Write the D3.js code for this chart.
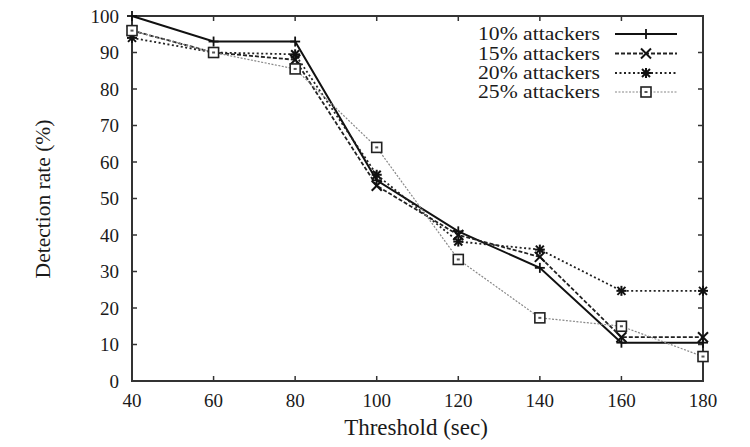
<!DOCTYPE html>
<html><head><meta charset="utf-8">
<script src="https://cdn.jsdelivr.net/npm/d3@7"></script>
<style>body{margin:0;background:#fff}svg{display:block}text{font-family:'Liberation Serif','DejaVu Serif',serif}</style>
</head><body><svg id="c" width="750" height="447"></svg>
<script>
const thresholds = [40, 60, 80, 100, 120, 140, 160, 180];
const seriesNames = ["10% attackers", "15% attackers", "20% attackers", "25% attackers"];
const s10 = [100, 93, 93, 55, 41, 31, 10.5, 10.5];
const s15 = [96, 90, 88, 53.5, 40, 34, 12, 12];
const s20 = [94, 90, 89.5, 56.5, 38.2, 36, 24.7, 24.7];
const s25 = [96, 90, 85.5, 64, 33.3, 17.3, 15, 6.7];
const yTicks = [0, 10, 20, 30, 40, 50, 60, 70, 80, 90, 100];
const xTicks = [40, 60, 80, 100, 120, 140, 160, 180];

const svg = d3.select("#c");
const L = 132, R = 703, T = 16, B = 381;
const x = d3.scaleLinear().domain([40, 180]).range([L, R]);
const y = d3.scaleLinear().domain([0, 100]).range([B, T]);
const axisColor = "#333";
const textColor = "#1a1a1a";

const g = svg.append("g");
const tl = 5;
yTicks.forEach(v => {
  g.append("line").attr("x1", L).attr("x2", L + tl).attr("y1", y(v)).attr("y2", y(v)).attr("stroke", axisColor).attr("stroke-width", 1.5);
  g.append("line").attr("x1", R).attr("x2", R - tl).attr("y1", y(v)).attr("y2", y(v)).attr("stroke", axisColor).attr("stroke-width", 1.5);
  g.append("text").attr("x", 119).attr("y", y(v)).attr("dy", "0.35em").attr("text-anchor", "end")
    .attr("font-size", 19).attr("fill", textColor).text(v);
});
xTicks.forEach(v => {
  g.append("line").attr("x1", x(v)).attr("x2", x(v)).attr("y1", B).attr("y2", B - tl).attr("stroke", axisColor).attr("stroke-width", 1.5);
  g.append("line").attr("x1", x(v)).attr("x2", x(v)).attr("y1", T).attr("y2", T + tl).attr("stroke", axisColor).attr("stroke-width", 1.5);
  g.append("text").attr("x", x(v)).attr("y", 407).attr("text-anchor", "middle")
    .attr("font-size", 19).attr("fill", textColor).text(v);
});
g.append("rect").attr("x", L).attr("y", T).attr("width", R - L).attr("height", B - T)
  .attr("fill", "none").attr("stroke", axisColor).attr("stroke-width", 2);

svg.append("text").attr("x", 416).attr("y", 435).attr("text-anchor", "middle")
  .attr("font-size", 23).attr("fill", textColor).text("Threshold (sec)");
svg.append("text").attr("transform", "translate(50,199) rotate(-90)").attr("text-anchor", "middle")
  .attr("font-size", 21.5).attr("fill", textColor).text("Detection rate (%)");

const styles = [
  {data: s10, color: "#111", width: 2, dash: null, marker: "plus"},
  {data: s15, color: "#222", width: 1.8, dash: "4,2", marker: "cross"},
  {data: s20, color: "#222", width: 1.8, dash: "2,2.5", marker: "star"},
  {data: s25, color: "#888", width: 1.2, dash: "2,1.5", marker: "square"}
];

function drawMarker(sel, type, cx, cy) {
  const m = sel.append("g").attr("transform", `translate(${cx},${cy})`);
  const s = 5;
  const ln = (x1, y1, x2, y2, w) => m.append("line").attr("x1", x1).attr("y1", y1).attr("x2", x2).attr("y2", y2).attr("stroke", "#111").attr("stroke-width", w);
  if (type === "plus") { ln(-s, 0, s, 0, 1.8); ln(0, -s, 0, s, 1.8); }
  else if (type === "cross") { ln(-s, -s, s, s, 2); ln(-s, s, s, -s, 2); }
  else if (type === "star") { ln(-s, 0, s, 0, 2); ln(0, -s, 0, s, 2); ln(-4, -4, 4, 4, 2); ln(-4, 4, 4, -4, 2); }
  else if (type === "square") {
    m.append("rect").attr("x", -5).attr("y", -5).attr("width", 10).attr("height", 10).attr("fill", "#fff").attr("stroke", "#222").attr("stroke-width", 1.6);
    m.append("rect").attr("x", -1.5).attr("y", -1).attr("width", 3).attr("height", 2).attr("fill", "#555");
  }
}

const line = d3.line().x((d, i) => x(thresholds[i])).y(d => y(d));
styles.forEach(st => {
  svg.append("path").datum(st.data).attr("d", line).attr("fill", "none")
    .attr("stroke", st.color).attr("stroke-width", st.width).attr("stroke-dasharray", st.dash);
});
styles.forEach(st => {
  st.data.forEach((v, i) => drawMarker(svg, st.marker, x(thresholds[i]), y(v)));
});

const legY = [34, 53.5, 73, 92];
styles.forEach((st, i) => {
  svg.append("text").attr("x", 600).attr("y", legY[i]).attr("dy", "0.35em").attr("text-anchor", "end")
    .attr("font-size", 18).attr("textLength", 122).attr("lengthAdjust", "spacingAndGlyphs")
    .attr("fill", textColor).text(seriesNames[i]);
  svg.append("line").attr("x1", 615).attr("x2", 677).attr("y1", legY[i]).attr("y2", legY[i])
    .attr("stroke", st.color).attr("stroke-width", st.width).attr("stroke-dasharray", st.dash);
  drawMarker(svg, st.marker, 646, legY[i]);
});
</script></body></html>
